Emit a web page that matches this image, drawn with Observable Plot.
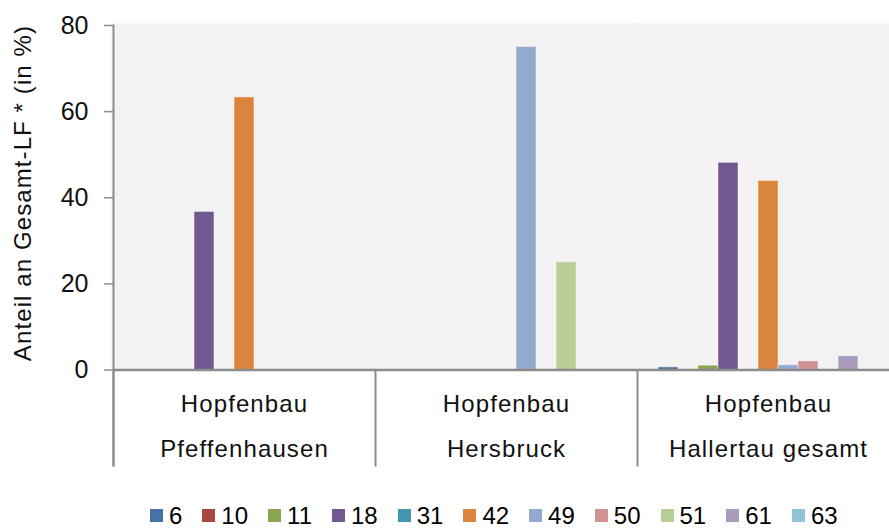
<!DOCTYPE html>
<html>
<head>
<meta charset="utf-8">
<script src="https://cdn.jsdelivr.net/npm/d3@7"></script>
<script src="https://cdn.jsdelivr.net/npm/@observablehq/plot@0.6"></script>
<style>
  html, body { margin: 0; padding: 0; overflow: hidden; background: #fff; width: 889px; height: 529px; }
  #chart { position: absolute; left: 0; top: 0; width: 899px; }
  #chart svg { max-width: none !important; }
  #chart svg g[font-size="24"] text { letter-spacing: 1.1px; }
  #legend { position: absolute; left: 150px; top: 504px; height: 23px; display: flex; align-items: center;
            font-family: "Liberation Sans", Arial, sans-serif; font-size: 24px; line-height: 23px; color: #000; }
  #legend .item { display: flex; align-items: center; margin-right: 20px; }
  #legend .sw { width: 13px; height: 13px; margin-right: 6px; }
</style>
</head>
<body>
<div id="chart"></div>
<div id="legend"></div>
<script>
const groupNames = ["Pfeffenhausen", "Hersbruck", "Hallertau gesamt"];
const groupPrefix = "Hopfenbau";
const series = ["6", "10", "11", "18", "31", "42", "49", "50", "51", "61", "63"];
const seriesColors = ["#4572A7", "#AA4643", "#89A54E", "#71588F", "#4198AF", "#DB843D",
                      "#93A9CF", "#D19392", "#B9CD96", "#A99BBD", "#92C3D5"];
const valuesPfeffenhausen = [0, 0, 0, 36.7, 0, 63.3, 0, 0, 0, 0, 0];
const valuesHersbruck     = [0, 0, 0, 0, 0, 0, 75.0, 0, 25.0, 0, 0];
const valuesHallertau     = [0.6, 0, 1.0, 48.1, 0, 43.9, 1.1, 2.0, 0, 3.2, 0];
const yTicks = [0, 20, 40, 60, 80];
const yTitle = "Anteil an Gesamt-LF * (in %)";

const groupValues = [valuesPfeffenhausen, valuesHersbruck, valuesHallertau];
const data = groupNames.flatMap((g, gi) =>
  series.map((s, si) => ({group: g, series: s, value: groupValues[gi][si]})));

const axisGray = "#8c8c8c";
const font = "'Liberation Sans', Arial, sans-serif";

const chart = Plot.plot({
  width: 899,
  height: 500,
  marginLeft: 113,
  marginRight: 0,
  marginTop: 25,
  marginBottom: 35,
  style: {fontFamily: font, background: "transparent", maxWidth: "none"},
  fx: {domain: groupNames, padding: 0, axis: null},
  x: {domain: series, paddingInner: 0, paddingOuter: 0.74, axis: null},
  y: {domain: [-22.18, 80], axis: null},
  color: {domain: series, range: seriesColors},
  marks: [
    Plot.frame({anchor: "left", stroke: axisGray, strokeWidth: 2}),
    Plot.rect([0], {y1: 0, y2: 80, fill: "#f2f2f2", inset: -1.5}),
    Plot.barY(data, {fx: "group", x: "series", y: "value", fill: "series",
                     stroke: "white", strokeOpacity: 0.45, strokeWidth: 1}),
    Plot.ruleY([0], {stroke: axisGray, strokeWidth: 2.5}),
    Plot.frame({anchor: "left", facetAnchor: "left", stroke: axisGray, strokeWidth: 2}),
    Plot.axisY(yTicks, {tickSize: 9, tickPadding: 16, fontSize: 25, stroke: axisGray,
                        strokeWidth: 1.5, fill: "#111", label: null}),
    Plot.text(groupNames, {fx: d => d, y: -7.9, text: () => groupPrefix, fontSize: 24, fill: "#111"}),
    Plot.text(groupNames, {fx: d => d, y: -18.5, text: d => d, fontSize: 24, fill: "#111"}),
    Plot.text([groupNames[0]], {fx: d => d, y: 41.1, text: () => yTitle, rotate: -90,
                                frameAnchor: "left", textAnchor: "middle", dx: -90.5,
                                fontSize: 24, fill: "#111"})
  ]
});
document.getElementById("chart").appendChild(chart);

const legend = document.getElementById("legend");
series.forEach((s, i) => {
  const item = document.createElement("div");
  item.className = "item";
  const sw = document.createElement("div");
  sw.className = "sw";
  sw.style.background = seriesColors[i];
  const label = document.createElement("span");
  label.textContent = s;
  item.appendChild(sw);
  item.appendChild(label);
  legend.appendChild(item);
});
</script>
</body>
</html>
